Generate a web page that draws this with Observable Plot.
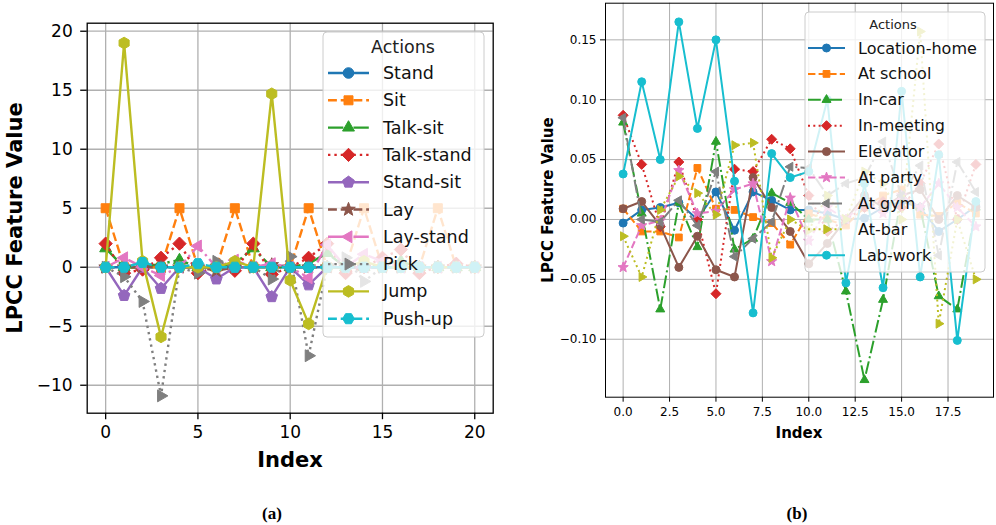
<!DOCTYPE html>
<html><head><meta charset="utf-8">
<script src="https://cdn.jsdelivr.net/npm/d3@7"></script>
<script src="https://cdn.jsdelivr.net/npm/@observablehq/plot@0.6"></script>
<style>
body{margin:0;background:#fff;}
#wrap{position:relative;width:996px;height:525px;overflow:hidden;background:#fff;font-family:"DejaVu Sans",sans-serif}
.panel{position:absolute;top:0}
.cap{position:absolute;font-family:"Liberation Serif","DejaVu Serif",serif;font-weight:bold;font-size:17px;transform:translate(-50%,-50%);white-space:nowrap}
</style></head><body><div id="wrap"></div>
<script>
// ---------------- data: panel (a) ----------------
const leftActions = ["Stand","Sit","Talk-sit","Talk-stand","Stand-sit","Lay","Lay-stand","Pick","Jump","Push-up"];
const leftStand     = [0,0,0,0,0,0,0,0,0,0,0,0,0,0,0,0,0,0,0,0,0];
const leftSit       = [5,0,0,0,5,0,0,5,0,0,0,5,0,0,5,0,0,0,5,0,0];
const leftTalkSit   = [1.6,0,0,0.3,0.6,0,0,0.3,1.6,0,0,0.3,1.2,0,0,0.3,0.5,0,0,0,0];
const leftTalkStand = [2,-0.5,-0.2,0.8,2,-0.5,0,-0.3,2,-0.6,0,0.8,2,-0.5,0,0.8,1.5,-0.5,0,0.3,0];
const leftStandSit  = [0,-2.4,0,-1.8,0,0,-1,0,0,-2.5,0,-1.5,0,0,0,0,0,0,0,0,0];
const leftLay       = [0,0,0,0,0,0,-0.3,0,0,0.2,0,0,0,0,0,0,0,0,0,0,0];
const leftLayStand  = [0,0.8,0,-0.7,0,1.8,0,0.6,0,0.3,0,-0.9,1.9,0,1.1,0.5,0,0,0,0,0];
const leftPick      = [0,-0.8,-2.9,-10.9,0,-0.5,0.5,0,0,-1,0.9,-7.5,0,0.8,-1.2,0,0,0,0,0,0];
const leftJump      = [0,19,0.5,-5.9,0,0,0,0.5,0,14.7,-1.1,-4.8,0,0,0.5,0,0,0,0,0,0];
const leftPushUp    = [0,0,0.4,0,0,0.3,0,0,0,0,0,0,0,0,0,0,0,0,0,0,0];
const leftSeries = [leftStand,leftSit,leftTalkSit,leftTalkStand,leftStandSit,leftLay,leftLayStand,leftPick,leftJump,leftPushUp];
const leftXTicks = [0,5,10,15,20];
const leftYTicks = [-10,-5,0,5,10,15,20];

// ---------------- data: panel (b) ----------------
const rightActions = ["Location-home","At school","In-car","In-meeting","Elevator","At party","At gym","At-bar","Lab-work"];
const rightLocationHome = [-0.003,0.008,0.010,0.014,0.000,0.023,-0.009,0.023,0.016,0.008,0.008,0.005,0.000,0.001,0.010,0.015,0.010,-0.010,0.000,0.011];
const rightAtSchool     = [0.009,-0.010,-0.010,-0.015,0.043,0.009,0.008,0.002,-0.003,-0.021,0.005,0.000,-0.005,0.010,0.020,0.025,0.004,0.003,0.014,0.005];
const rightInCar        = [0.081,0.005,-0.075,0.014,-0.023,0.065,-0.025,-0.016,0.022,0.014,0.000,0.000,-0.060,-0.134,-0.067,0.020,0.010,-0.064,-0.075,0.010];
const rightInMeeting    = [0.087,0.046,-0.006,0.048,0.000,-0.062,0.042,0.040,0.067,0.059,0.020,-0.010,0.000,0.010,0.015,0.010,0.030,0.063,0.000,0.046];
const rightElevator     = [0.009,0.015,-0.005,-0.040,-0.014,-0.042,-0.048,0.035,0.010,-0.010,-0.037,-0.020,0.000,0.020,0.010,0.020,0.025,0.000,0.020,0.010];
const rightAtParty      = [-0.040,-0.005,-0.001,0.041,0.005,0.007,0.025,0.030,-0.035,0.018,-0.018,0.010,0.000,0.015,0.005,0.020,0.010,0.030,0.010,-0.006];
const rightAtGym        = [0.085,0.000,-0.002,0.016,-0.005,0.040,-0.031,-0.016,-0.002,0.044,0.043,0.020,0.030,0.035,0.065,0.020,0.045,-0.030,0.048,0.023];
const rightAtBar        = [-0.014,-0.048,0.008,0.036,0.022,0.004,0.062,0.064,-0.032,0.000,-0.009,0.020,0.000,0.040,0.030,0.000,0.157,-0.087,0.000,-0.050];
const rightLabWork      = [0.038,0.115,0.050,0.165,0.076,0.150,0.032,-0.078,0.055,0.035,0.040,0.100,-0.053,0.030,-0.057,0.107,-0.048,0.054,-0.101,0.015];
const rightSeries = [rightLocationHome,rightAtSchool,rightInCar,rightInMeeting,rightElevator,rightAtParty,rightAtGym,rightAtBar,rightLabWork];
const rightXTicks = [0,2.5,5,7.5,10,12.5,15,17.5];
const rightYTicks = [-0.10,-0.05,0,0.05,0.10,0.15];

// ---------------- styles ----------------
const leftColors  = ["#1f77b4","#ff7f0e","#2ca02c","#d62728","#9467bd","#8c564b","#e377c2","#7f7f7f","#bcbd22","#17becf"];
const leftLines   = ["-","--","-.",":","-","--","-.",":","-","--"];
const leftMarks   = ["o","s","^","D","p","*","<",">","h","H"];
const rightColors = ["#1f77b4","#ff7f0e","#2ca02c","#d62728","#8c564b","#e377c2","#7f7f7f","#bcbd22","#17becf"];
const rightLines  = ["-","--","-.",":","-","--","-.",":","-"];
const rightMarks  = ["o","s","^","D","o","*","<",">","o"];

function regPoly(n, rot, k) {
  return { draw(ctx, size) {
    const r = Math.sqrt(size / Math.PI) * k;
    for (let i = 0; i < n; i++) {
      const a = rot + 2 * Math.PI * i / n;
      const x = r * Math.sin(a), y = -r * Math.cos(a);
      if (i) ctx.lineTo(x, y); else ctx.moveTo(x, y);
    }
    ctx.closePath();
  }};
}
const starSym = { draw(ctx, size) {
  const R = Math.sqrt(size / Math.PI) * 1.35, r0 = R * 0.42;
  for (let i = 0; i < 10; i++) {
    const a = Math.PI * i / 5, rr = i % 2 ? r0 : R;
    const x = rr * Math.sin(a), y = -rr * Math.cos(a);
    if (i) ctx.lineTo(x, y); else ctx.moveTo(x, y);
  }
  ctx.closePath();
}};
const circleSym = { draw(ctx, size) { const r = Math.sqrt(size / Math.PI); ctx.moveTo(r, 0); ctx.arc(0, 0, r, 0, 2 * Math.PI); ctx.closePath(); } };
const SYM = {
  "o": circleSym,
  "s": regPoly(4, Math.PI / 4, 1.2),
  "^": regPoly(3, 0, 1.3),
  "D": regPoly(4, 0, 1.25),
  "p": regPoly(5, 0, 1.15),
  "*": starSym,
  "<": regPoly(3, -Math.PI / 2, 1.3),
  ">": regPoly(3, Math.PI / 2, 1.3),
  "h": regPoly(6, 0, 1.1),
  "H": regPoly(6, Math.PI / 6, 1.1)
};
function dash(style, lw) {
  if (style === "--") return [3.7 * lw, 1.6 * lw].join(",");
  if (style === "-.") return [6.4 * lw, 1.6 * lw, 1 * lw, 1.6 * lw].join(",");
  if (style === ":") return [1 * lw, 1.65 * lw].join(",");
  return undefined;
}
function seriesMarks(series, colors, lines, markers, lw, r) {
  const marks = [];
  series.forEach((vals, k) => {
    const data = vals.map((v, i) => ({i, v}));
    marks.push(Plot.line(data, {x: "i", y: "v", stroke: colors[k], strokeWidth: lw,
      strokeDasharray: dash(lines[k], lw), strokeLinecap: "butt", strokeLinejoin: "round", clip: true}));
    marks.push(Plot.dot(data, {x: "i", y: "v", symbol: SYM[markers[k]], r,
      fill: colors[k], stroke: colors[k], strokeWidth: 1, clip: true}));
  });
  return marks;
}
function addText(svg, x, y, txt, o) {
  const t = d3.select(svg).append("text").attr("x", x).attr("y", y)
    .attr("text-anchor", o.anchor || "middle").attr("dominant-baseline", "central")
    .attr("font-family", "DejaVu Sans").attr("font-size", o.size).attr("font-weight", o.weight || "normal")
    .attr("fill", "#000").text(txt);
  if (o.rotate) t.attr("transform", `rotate(${o.rotate},${x},${y})`);
}
function addLegend(svg, names, colors, lines, markers, o) {
  const g = d3.select(svg).append("g").attr("font-family", "DejaVu Sans");
  g.append("rect").attr("x", o.x).attr("y", o.y).attr("width", o.w).attr("height", o.h).attr("rx", 4)
    .attr("fill", "white").attr("fill-opacity", 0.8).attr("stroke", "#cccccc").attr("stroke-width", 1);
  g.append("text").attr("x", o.titleX).attr("y", o.titleY).attr("text-anchor", "middle")
    .attr("dominant-baseline", "central").attr("font-size", o.titleSize).attr("fill", "#222").text("Actions");
  names.forEach((name, k) => {
    const y = o.row0 + k * o.step;
    g.append("line").attr("x1", o.hx1).attr("x2", o.hx2).attr("y1", y).attr("y2", y)
      .attr("stroke", colors[k]).attr("stroke-width", o.lw)
      .attr("stroke-dasharray", dash(lines[k], o.lw) || null);
    g.append("path").attr("transform", `translate(${o.mx},${y})`)
      .attr("d", d3.symbol(SYM[markers[k]], Math.PI * o.r * o.r)())
      .attr("fill", colors[k]).attr("stroke", colors[k]).attr("stroke-width", 1);
    g.append("text").attr("x", o.tx).attr("y", y).attr("text-anchor", "start").attr("dominant-baseline", "central")
      .attr("font-size", o.fontSize).attr("fill", "#111").text(name);
  });
}

const wrap = document.getElementById("wrap");

// ---------------- panel (a) ----------------
const left = Plot.plot({
  width: 500, height: 470,
  marginLeft: 86.7, marginRight: 7.3, marginTop: 22.7, marginBottom: 57.3,
  style: {fontFamily: "DejaVu Sans", fontSize: "17px", color: "#000", background: "transparent", overflow: "visible"},
  x: {domain: [-1, 21]},
  y: {domain: [-12.37, 20.68]},
  marks: [
    Plot.gridX(leftXTicks, {stroke: "#b0b0b0", strokeOpacity: 1, strokeWidth: 1.3}),
    Plot.gridY(leftYTicks, {stroke: "#b0b0b0", strokeOpacity: 1, strokeWidth: 1.3}),
    ...seriesMarks(leftSeries, leftColors, leftLines, leftMarks, 2.4, 5.3),
    Plot.frame({stroke: "#000", strokeWidth: 1.3}),
    Plot.axisX(leftXTicks, {tickSize: 6.5, tickPadding: 6, fontSize: 17, strokeWidth: 1.3, label: null}),
    Plot.axisY(leftYTicks, {tickSize: 6.5, tickPadding: 8, fontSize: 17, strokeWidth: 1.3, label: null})
  ]
});
left.classList.add("panel");
left.style.left = "0px";
wrap.appendChild(left);
addText(left, 290, 460, "Index", {size: 21, weight: "bold"});
addText(left, 15, 218, "LPCC Feature Value", {size: 21, weight: "bold", rotate: -90});
addLegend(left, leftActions, leftColors, leftLines, leftMarks, {x: 323, y: 32, w: 161, h: 305, titleX: 403, titleY: 47, titleSize: 17.5,
  row0: 73, step: 27.3, hx1: 328, hx2: 369, mx: 348.5, tx: 383, fontSize: 17.5, lw: 2.4, r: 5.3});

// ---------------- panel (b) ----------------
const right = Plot.plot({
  width: 496, height: 470,
  marginLeft: 105, marginRight: 3, marginTop: 2.7, marginBottom: 73.3,
  style: {fontFamily: "DejaVu Sans", fontSize: "12px", color: "#000", background: "transparent", overflow: "visible"},
  x: {domain: [-0.95, 19.95]},
  y: {domain: [-0.1484, 0.1806]},
  marks: [
    Plot.gridX(rightXTicks, {stroke: "#b0b0b0", strokeOpacity: 1, strokeWidth: 1}),
    Plot.gridY(rightYTicks, {stroke: "#b0b0b0", strokeOpacity: 1, strokeWidth: 1}),
    ...seriesMarks(rightSeries, rightColors, rightLines, rightMarks, 2, 4),
    Plot.frame({stroke: "#000", strokeWidth: 1}),
    Plot.axisX(rightXTicks, {tickSize: 5, tickPadding: 5, fontSize: 12, tickFormat: d3.format(".1f"), label: null}),
    Plot.axisY(rightYTicks, {tickSize: 5, tickPadding: 4, fontSize: 12, tickFormat: d3.format(".2f"), label: null})
  ]
});
right.classList.add("panel");
right.style.left = "500px";
wrap.appendChild(right);
addText(right, 299, 433, "Index", {size: 15, weight: "bold"});
addText(right, 48, 200, "LPCC Feature Value", {size: 15, weight: "bold", rotate: -90});
addLegend(right, rightActions, rightColors, rightLines, rightMarks, {x: 305, y: 12, w: 180, h: 260, titleX: 393, titleY: 24, titleSize: 13,
  row0: 48, step: 25.9, hx1: 308, hx2: 345, mx: 326.5, tx: 358, fontSize: 16, lw: 2, r: 4});

// ---------------- captions ----------------
for (const [txt, x] of [["(a)", 272], ["(b)", 797]]) {
  const d = document.createElement("div");
  d.className = "cap"; d.textContent = txt;
  d.style.left = x + "px"; d.style.top = "514px";
  wrap.appendChild(d);
}
</script></body></html>
